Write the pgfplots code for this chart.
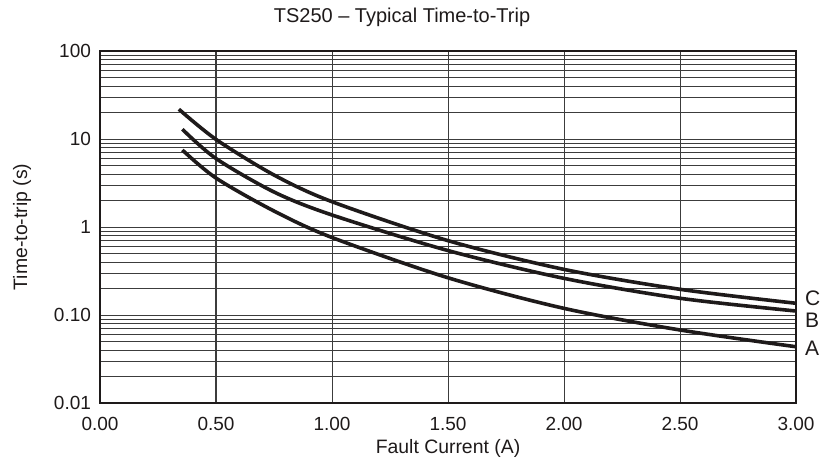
\documentclass[border=0pt]{standalone}
\usepackage{pgfplots}
\pgfplotsset{compat=1.18}
\usepackage{fontspec}
\setmainfont{Liberation Sans}
\definecolor{gridgray}{RGB}{60,60,60}
\definecolor{curve}{RGB}{30,26,26}

\begin{document}
\begin{tikzpicture}
  \begin{semilogyaxis}[
    at={(0,0)}, anchor=south west,
    scale only axis,
    width=348pt, height=176pt,
    xmin=0, xmax=3,
    ymin=0.01, ymax=100,
    xtick={0,0.5,1,1.5,2,2.5,3},
    xticklabels={0.00,0.50,1.00,1.50,2.00,2.50,3.00},
    ytick={0.01,0.1,1,10,100},
    yticklabels={0.01,0.10,1,10,100},
    xmajorgrids, ymajorgrids, yminorgrids,
    major grid style={line width=0.5pt, draw=gridgray},
    minor grid style={line width=0.5pt, draw=gridgray},
    axis line style={line width=0.9pt, draw=curve},
    major tick length=0pt, minor tick length=0pt,
    tick label style={font=\fontsize{9.5}{11}\selectfont, text=curve},
    /pgf/number format/assume math mode=true,
    xticklabel style={yshift=-3.5pt},
    yticklabel style={xshift=-1pt},
  ]
  % Curve A
  \addplot[curve, line width=1.8pt, smooth] coordinates {
    (0.355,7.5)(0.5,3.6)(0.75,1.52)(1.0,0.76)(1.5,0.265)
    (2.0,0.119)(2.5,0.0676)(3.0,0.0436)
  };
  % Curve B
  \addplot[curve, line width=1.8pt, smooth] coordinates {
    (0.355,12.9)(0.5,6.0)(0.75,2.5)(1.0,1.37)(1.5,0.54)
    (2.0,0.261)(2.5,0.155)(3.0,0.111)
  };
  % Curve C
  \addplot[curve, line width=1.8pt, smooth] coordinates {
    (0.34,21.8)(0.5,9.9)(0.75,3.9)(1.0,1.94)(1.5,0.70)
    (2.0,0.33)(2.5,0.196)(3.0,0.136)
  };
  \end{semilogyaxis}
  \begin{scope}[text=curve, font=\fontsize{9.7}{11}\selectfont]
    \node at (151pt,193pt) {\fontsize{10}{12}\selectfont TS250 -- Typical Time-to-Trip};
    \node[anchor=base] at (174pt,-25pt) {Fault Current (A)};
    \node[rotate=90] at (-39pt,88pt) {Time-to-trip (s)};
    \node[anchor=west, font=\fontsize{10.5}{12}\selectfont] at (349pt,52.5pt) {C};
    \node[anchor=west, font=\fontsize{10.5}{12}\selectfont] at (349pt,41.5pt) {B};
    \node[anchor=west, font=\fontsize{10.5}{12}\selectfont] at (349pt,27.5pt) {A};
  \end{scope}
  \path[use as bounding box] (-50pt,-28.5pt) rectangle (366.5pt,201.5pt);
\end{tikzpicture}
\end{document}
